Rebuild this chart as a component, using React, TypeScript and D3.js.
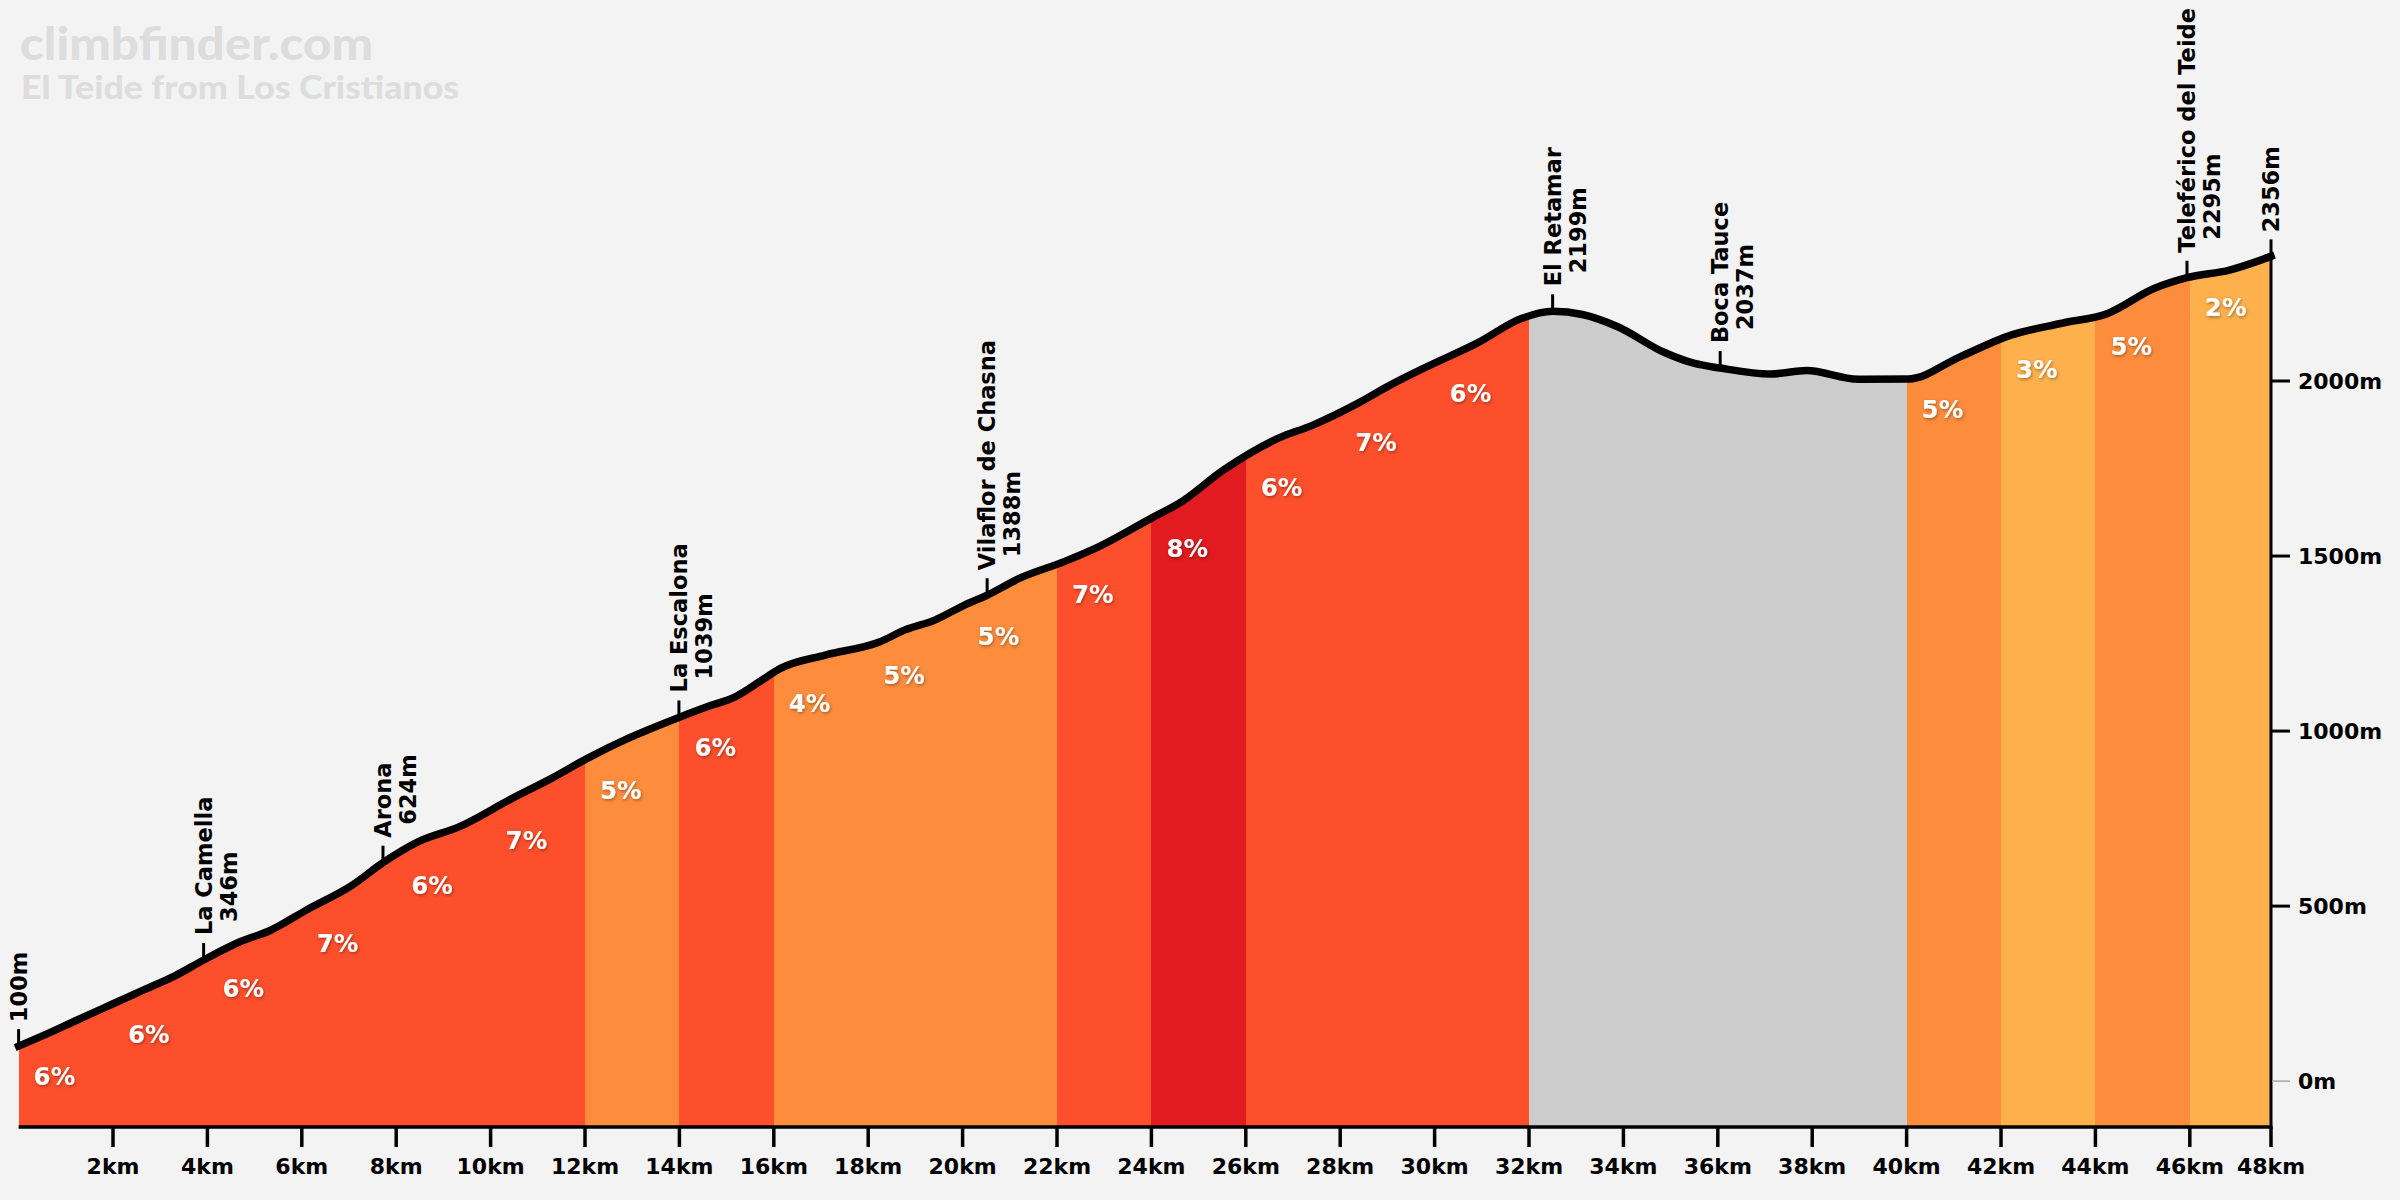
import React from "react";
import * as d3 from "d3";

// ---- data ----
const titleText = "climbfinder.com";
const subtitleText = "El Teide from Los Cristianos";

const totalKm = 47.72;

const profileKm = [
  0, 0.6, 1.23, 2, 2.64, 3.3, 3.92, 4.69, 5.34, 6.1, 7.07, 7.72, 8.47, 9.34, 10.42, 11.29,
  12.05, 12.91, 13.99, 14.6, 15.18, 15.72, 16.14, 17.09, 18.25, 18.78, 19.41, 20.04, 20.52,
  21.2, 22.15, 22.89, 24.05, 24.58, 25.53, 26.68, 27.42, 28.37, 29.0, 29.84, 30.9, 31.85,
  32.5, 33.13, 33.88, 34.86, 35.51, 36.05, 37.12, 37.88, 38.97, 40.05, 41.13, 42.21, 43.29,
  44.26, 45.24, 45.94, 46.84, 47.72,
];
const profileElev = [
  100, 135, 174, 221, 260, 300, 346, 398, 431, 489, 560, 624, 684, 727, 805, 865,
  922, 979, 1039, 1070, 1098, 1143, 1179, 1217, 1255, 1289, 1317, 1360, 1388,
  1436, 1484, 1527, 1612, 1650, 1746, 1836, 1874, 1936, 1984, 2041, 2108, 2179,
  2199, 2190, 2155, 2082, 2050, 2037, 2020, 2030, 2005, 2006, 2069, 2131, 2165,
  2193, 2264, 2295, 2317, 2356,
];

const segStartKm = [0, 2, 4, 6, 8, 10, 12, 14, 16, 18, 20, 22, 24, 26, 28, 30, 32, 34, 36, 38, 40, 42, 44, 46];
const segGrade = [6, 6, 6, 7, 6, 7, 5, 6, 4, 5, 5, 7, 8, 6, 7, 6, -2, -5, -1, -1, 5, 3, 5, 2];

const markerName = ["", "La Camella", "Arona", "La Escalona", "Vilaflor de Chasna", "El Retamar", "Boca Tauce", "Teleférico del Teide", ""];
const markerKm = [0, 3.92, 7.72, 13.99, 20.52, 32.5, 36.05, 45.94, 47.72];
const markerElev = [100, 346, 624, 1039, 1388, 2199, 2037, 2295, 2356];

const xTickKm = [2, 4, 6, 8, 10, 12, 14, 16, 18, 20, 22, 24, 26, 28, 30, 32, 34, 36, 38, 40, 42, 44, 46, 47.72];
const yTickElev = [0, 500, 1000, 1500, 2000];

function gradeColor(g: number) {
  if (g <= 0) return "#CCCCCC";
  if (g <= 3) return "#FDB04C";
  if (g <= 5) return "#FD8C3D";
  if (g <= 7) return "#FD4F2C";
  return "#E11B1F";
}

const FONT = "'DejaVu Sans', sans-serif";

export default function App() {
  const W = 2400;
  const H = 1200;
  const yMin = -131;
  const x = d3.scaleLinear().domain([0, totalKm]).range([18.6, 2271]);
  const y = d3.scaleLinear().domain([yMin, 2000]).range([1127, 381]);
  const pts: [number, number][] = profileKm.map((k, i) => [k, profileElev[i]]);
  const elevAt = d3.scaleLinear().domain(profileKm).range(profileElev);

  const area = d3
    .area<[number, number]>()
    .x((d) => x(d[0]))
    .y0(y(yMin))
    .y1((d) => y(d[1]))
    .curve(d3.curveMonotoneX);
  const line = d3
    .line<[number, number]>()
    .x((d) => x(d[0]))
    .y((d) => y(d[1]))
    .curve(d3.curveMonotoneX);

  const areaPath = area(pts) || "";
  const linePath = line(pts) || "";
  const top = y(2600);
  const base = y(yMin);

  return (
    <div style={{ position: "absolute", left: 0, top: 0 }}>
      <svg width={W} height={H} viewBox={`0 0 ${W} ${H}`} style={{ display: "block" }}>
        <defs>
          <clipPath id="areaClip">
            <path d={areaPath} />
          </clipPath>
          <filter id="shadow" x="-20%" y="-20%" width="140%" height="140%">
            <feDropShadow dx="1" dy="1.5" stdDeviation="1.5" floodColor="#000" floodOpacity="0.35" />
          </filter>
        </defs>
        <rect x={0} y={0} width={W} height={H} fill="#F3F3F3" />

        <text x={20} y={60} fontFamily="Lato, sans-serif" fontWeight={900} fontSize={45} fill="#DDDDDD" textLength={353} lengthAdjust="spacingAndGlyphs">
          {titleText}
        </text>
        <text x={21} y={99} fontFamily="Lato, sans-serif" fontWeight={900} fontSize={32} fill="#DDDDDD" textLength={438} lengthAdjust="spacingAndGlyphs">
          {subtitleText}
        </text>

        {/* gradient segments */}
        <g clipPath="url(#areaClip)">
          {segStartKm.map((s, i) => {
            const e = i + 1 < segStartKm.length ? segStartKm[i + 1] : totalKm;
            return (
              <rect
                key={i}
                x={x(s)}
                y={top}
                width={x(e) - x(s) + 0.5}
                height={base - top}
                fill={gradeColor(segGrade[i])}
                shapeRendering="crispEdges"
              />
            );
          })}
        </g>

        {/* gradient labels */}
        <g filter="url(#shadow)">
          {segStartKm.map((s, i) =>
            segGrade[i] > 0 ? (
              <text
                key={i}
                x={x(s) + 15}
                y={y(elevAt(s)) + 39}
                fontFamily={FONT}
                fontWeight="bold"
                fontSize={24.5}
                fill="#FFFFFF"
              >
                {segGrade[i]}%
              </text>
            ) : null
          )}
        </g>

        {/* right edge */}
        <line x1={x(totalKm)} x2={x(totalKm)} y1={y(profileElev[profileElev.length - 1])} y2={base} stroke="#000" strokeWidth={3} />

        {/* profile line */}
        <path d={linePath} fill="none" stroke="#000" strokeWidth={7.5} strokeLinejoin="round" strokeLinecap="square" />

        {/* x axis */}
        <line x1={x(0)} x2={x(totalKm) + 1.5} y1={base} y2={base} stroke="#000" strokeWidth={3.5} />
        {xTickKm.map((k, i) => (
          <g key={i}>
            <line x1={x(k)} x2={x(k)} y1={base} y2={base + 20} stroke="#000" strokeWidth={3.5} />
            <text x={x(k)} y={base + 47} textAnchor="middle" fontFamily={FONT} fontWeight="bold" fontSize={22} fill="#000">
              {Math.round(k)}km
            </text>
          </g>
        ))}

        {/* y axis (right) */}
        {yTickElev.map((v, i) => (
          <g key={i}>
            <line
              x1={x(totalKm) + 1}
              x2={x(totalKm) + 19}
              y1={y(v)}
              y2={y(v)}
              stroke={v === 0 ? "#AAAAAA" : "#000"}
              strokeWidth={v === 0 ? 1.5 : 3}
            />
            <text x={x(totalKm) + 27} y={y(v)} dominantBaseline="central" fontFamily={FONT} fontWeight="bold" fontSize={22} fill="#000">
              {v}m
            </text>
          </g>
        ))}

        {/* markers */}
        {markerKm.map((k, i) => {
          const mx = x(k);
          const my = y(markerElev[i]);
          const name = markerName[i];
          return (
            <g key={i}>
              <line x1={mx} x2={mx} y1={my} y2={my - 17} stroke="#000" strokeWidth={3} />
              <g transform={`translate(${mx},${my}) rotate(-90)`}>
                {name ? (
                  <>
                    <text x={25} y={8} fontFamily={FONT} fontWeight="bold" fontSize={22.5} fill="#000">
                      {name}
                    </text>
                    <text x={38} y={33} fontFamily={FONT} fontWeight="bold" fontSize={22.5} fill="#000">
                      {markerElev[i]}m
                    </text>
                  </>
                ) : (
                  <text x={24} y={8} fontFamily={FONT} fontWeight="bold" fontSize={22.5} fill="#000">
                    {markerElev[i]}m
                  </text>
                )}
              </g>
            </g>
          );
        })}
      </svg>
    </div>
  );
}
